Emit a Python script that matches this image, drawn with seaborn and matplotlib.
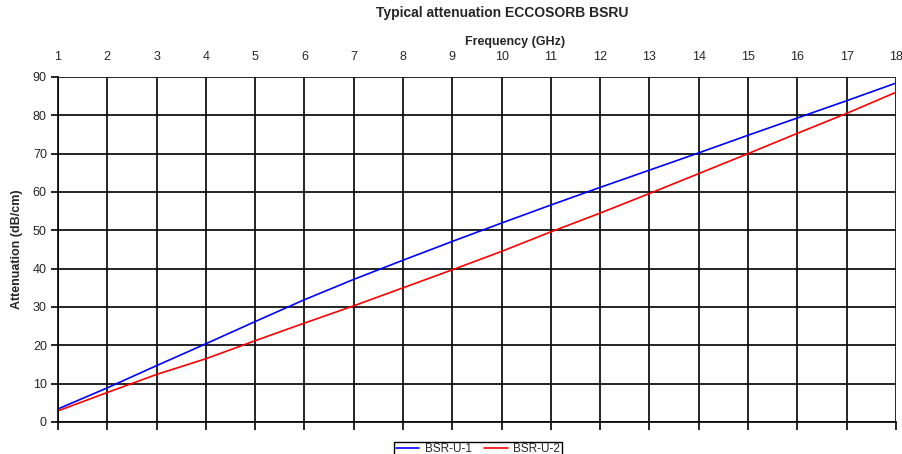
# Typical attenuation ECCOSORB BSRU
import pandas as pd
import seaborn as sns
import matplotlib.pyplot as plt

freq = [1, 2, 3, 4, 5, 6, 7, 8, 9, 10, 11, 12, 13, 14, 15, 16, 17, 18]
bsr_u_1 = [3.4, 8.9, 14.7, 20.4, 26.2, 31.9, 37.2, 42.2, 47.1, 51.9,
           56.6, 61.2, 65.7, 70.2, 74.8, 79.3, 83.8, 88.4]
bsr_u_2 = [2.9, 7.7, 12.4, 16.5, 21.2, 25.8, 30.3, 35.0, 39.7, 44.5,
           49.6, 54.5, 59.6, 64.8, 70.0, 75.3, 80.5, 86.0]
series = ["BSR-U-1", "BSR-U-2"]
y_ticks = [0, 10, 20, 30, 40, 50, 60, 70, 80, 90]

data = pd.DataFrame({
    "Frequency": freq * 2,
    "Attenuation": bsr_u_1 + bsr_u_2,
    "Series": [series[0]] * len(freq) + [series[1]] * len(freq),
})

sns.set_style("white")
plt.rcParams["font.family"] = ["Liberation Sans", "DejaVu Sans"]

fig = plt.figure(figsize=(9.03, 4.54), dpi=100)
ax = fig.add_axes([0.0642, 0.0705, 0.928, 0.76])

sns.lineplot(data=data, x="Frequency", y="Attenuation", hue="Series",
             palette=["#0000ff", "#ff0000"], linewidth=1.2, ax=ax)

ax.set_xlim(1, 18)
ax.set_ylim(0, 90)
ax.set_xticks(freq)
ax.set_yticks(y_ticks)
ax.grid(True, color="black", linewidth=1.2)
ax.set_axisbelow(True)

for side in ["top", "right"]:
    ax.spines[side].set_visible(False)
ax.spines["left"].set_color("black")
ax.spines["bottom"].set_color("black")
ax.spines["left"].set_linewidth(1.2)
ax.spines["bottom"].set_linewidth(1.2)

ax.tick_params(axis="x", bottom=True, top=False, labelbottom=False, labeltop=True,
               length=6, width=1.2, color="black", labelsize=9, pad=4, direction="out")
ax.tick_params(axis="y", left=True, length=5, width=1.2, color="black",
               labelsize=9, pad=3, direction="out")

ax.set_xlabel("")
ax.set_ylabel("Attenuation (dB/cm)", fontsize=9, fontweight="bold", labelpad=7)

fig.text(502 / 903, 1 - 13 / 454, "Typical attenuation ECCOSORB BSRU",
         ha="center", va="center", fontsize=10, fontweight="bold")
fig.text(515 / 903, 1 - 42 / 454, "Frequency (GHz)",
         ha="center", va="center", fontsize=9, fontweight="bold")

handles, labels = ax.get_legend_handles_labels()
leg = ax.legend(handles, labels, loc="upper center",
                bbox_to_anchor=(478 / 903, 1 - 436 / 454),
                bbox_transform=fig.transFigure, ncol=2, fontsize=8.5, frameon=True,
                fancybox=False, edgecolor="black", framealpha=1, borderpad=0.1,
                handlelength=2.0, handletextpad=0.5, columnspacing=1.0, title=None)
leg.get_frame().set_linewidth(1.0)

plt.savefig("out.png", dpi=100)
